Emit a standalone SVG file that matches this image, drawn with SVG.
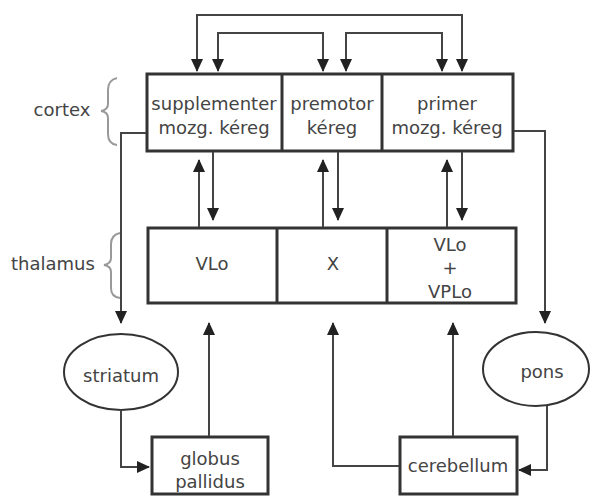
<svg xmlns="http://www.w3.org/2000/svg" width="590" height="496" viewBox="0 0 590 496">
<style>
.box{fill:#fff;stroke:#333;stroke-width:3}
.div{stroke:#333;stroke-width:3}
.ell{fill:#fff;stroke:#333;stroke-width:2}
.t{font-family:"DejaVu Sans","Liberation Sans",sans-serif;font-size:18px;fill:#444;text-anchor:middle}
.c{fill:none;stroke:#444;stroke-width:2}
.br{fill:none;stroke:#999;stroke-width:2}
</style>
<defs>
<marker id="ah" viewBox="0 0 13 12" refX="12" refY="6" markerWidth="13" markerHeight="12" markerUnits="userSpaceOnUse" orient="auto-start-reverse">
<path d="M0,0 L13,6 L0,12 Z" fill="#222"/>
</marker>
</defs>
<rect width="590" height="496" fill="#fff"/>
<g id="labels">
<text class="t" x="62" y="116">cortex</text>
<path class="br" d="M117,78 Q108,80 108,90 L108,104 Q108,110 101,111 Q108,112 108,118 L108,134 Q108,144 117,145"/>
<text class="t" x="53" y="270">thalamus</text>
<path class="br" d="M120,233 Q111,235 111,244 L111,258 Q111,264 104,265 Q111,266 111,272 L111,288 Q111,297 120,298"/>
</g>
<g id="cortex">
<rect class="box" x="147" y="74" width="366" height="77"/>
<line class="div" x1="282" y1="74" x2="282" y2="151"/>
<line class="div" x1="382" y1="74" x2="382" y2="151"/>
</g>
<g id="sma">
<text class="t" x="214" y="110">supplementer</text>
<text class="t" x="214" y="134">mozg. kéreg</text>
</g>
<g id="premotor">
<text class="t" x="332" y="110">premotor</text>
<text class="t" x="332" y="134">kéreg</text>
</g>
<g id="primer">
<text class="t" x="447" y="110">primer</text>
<text class="t" x="447" y="134">mozg.  kéreg</text>
</g>
<g id="thalamus">
<rect class="box" x="148" y="228" width="368" height="75"/>
<line class="div" x1="277" y1="228" x2="277" y2="303"/>
<line class="div" x1="387" y1="228" x2="387" y2="303"/>
</g>
<g id="vlo"><text class="t" x="212" y="270">VLo</text></g>
<g id="x"><text class="t" x="333" y="270">X</text></g>
<g id="vlovplo">
<text class="t" x="450" y="251">VLo</text>
<text class="t" x="450" y="274">+</text>
<text class="t" x="450" y="298">VPLo</text>
</g>
<g id="striatum">
<ellipse class="ell" cx="121" cy="372" rx="57" ry="38"/>
<text class="t" x="121" y="382">striatum</text>
</g>
<g id="pons">
<ellipse class="ell" cx="536" cy="369" rx="53" ry="37"/>
<text class="t" x="542" y="378">pons</text>
</g>
<g id="globus">
<rect class="box" x="152" y="437" width="116" height="57"/>
<text class="t" x="210" y="465">globus</text>
<text class="t" x="210" y="488">pallidus</text>
</g>
<g id="cerebellum">
<rect class="box" x="400" y="437" width="117" height="57"/>
<text class="t" x="458" y="472">cerebellum</text>
</g>
<g id="connectors">
<path class="c" d="M197,71 V15 H462 V71" marker-start="url(#ah)" marker-end="url(#ah)"/>
<path class="c" d="M218,71 V33 H323 V71" marker-start="url(#ah)" marker-end="url(#ah)"/>
<path class="c" d="M346,71 V33 H442 V71" marker-start="url(#ah)" marker-end="url(#ah)"/>
<path class="c" d="M199,227 V160" marker-end="url(#ah)"/>
<path class="c" d="M213,152 V220" marker-end="url(#ah)"/>
<path class="c" d="M323,227 V160" marker-end="url(#ah)"/>
<path class="c" d="M338,152 V220" marker-end="url(#ah)"/>
<path class="c" d="M447,227 V160" marker-end="url(#ah)"/>
<path class="c" d="M462,152 V220" marker-end="url(#ah)"/>
<path class="c" d="M146,133 H121 V323" marker-end="url(#ah)"/>
<path class="c" d="M514,131 H545 V323" marker-end="url(#ah)"/>
<path class="c" d="M121,410 V467 H149" marker-end="url(#ah)"/>
<path class="c" d="M209,436 V323" marker-end="url(#ah)"/>
<path class="c" d="M547,406 V470 H519" marker-end="url(#ah)"/>
<path class="c" d="M399,466 H333 V323" marker-end="url(#ah)"/>
<path class="c" d="M453,436 V323" marker-end="url(#ah)"/>
</g>
</svg>
